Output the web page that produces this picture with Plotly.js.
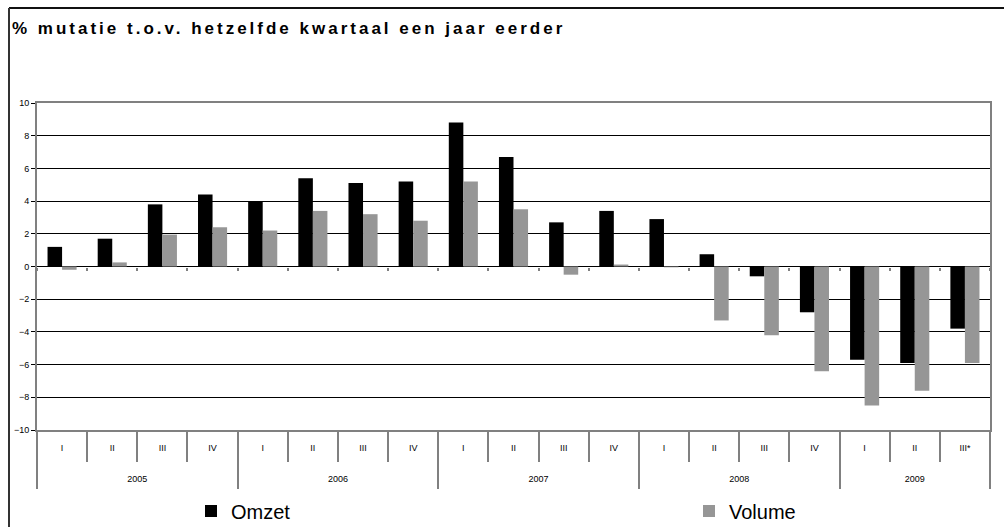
<!DOCTYPE html>
<html>
<head>
<meta charset="utf-8">
<script src="https://cdn.plot.ly/plotly-3.0.1.min.js"></script>
<style>
html,body{margin:0;padding:0;background:#fff;}
#chart{width:1004px;height:527px;}
.gtitle{letter-spacing:3px;}
</style>
</head>
<body>
<div id="chart"></div>
<script>
const quarters = ['I','II','III','IV','I','II','III','IV','I','II','III','IV','I','II','III','IV','I','II','III*'];
const years = ['2005','2005','2005','2005','2006','2006','2006','2006','2007','2007','2007','2007','2008','2008','2008','2008','2009','2009','2009'];
const omzet = [1.2,1.7,3.8,4.4,4.0,5.4,5.1,5.2,8.8,6.7,2.7,3.4,2.9,0.75,-0.6,-2.8,-5.7,-5.9,-3.8];
const volume = [-0.2,0.25,1.95,2.4,2.2,3.4,3.2,2.8,5.2,3.5,-0.5,0.12,-0.05,-3.3,-4.2,-6.4,-8.5,-7.6,-5.9];
const seriesNames = ['Omzet','Volume'];
const yTicks = [-10,-8,-6,-4,-2,0,2,4,6,8,10];
const yGrid = [-8,-6,-4,-2,2,4,6,8];

const idx = quarters.map((q,i)=>i);
const bounds = quarters.map((q,i)=>i-0.5).concat([quarters.length-0.5]);
const yearList = [...new Set(years)];
const yearStart = yearList.map(y=>years.indexOf(y));
const yearEnd = yearList.map(y=>years.lastIndexOf(y));
const yearCenters = yearList.map((y,k)=>(yearStart[k]+yearEnd[k])/2);
const yearBounds = yearStart.map(s=>s-0.5).concat([quarters.length-0.5]);
const xr = [-0.5, quarters.length-0.5];

const font = 'Liberation Sans, Arial, sans-serif';
const axisGray = '#808080';

const traces = [
  {type:'bar', name:seriesNames[0], x:idx, y:omzet, marker:{color:'#000000'}, legend:'legend'},
  {type:'bar', name:seriesNames[1], x:idx, y:volume, marker:{color:'#969696'}, legend:'legend2'}
];

const hiddenAxis = {overlaying:'x', range:xr, showgrid:false, zeroline:false, showline:false, fixedrange:true};
const legendBase = {orientation:'h', xref:'container', yref:'container', xanchor:'left', yanchor:'middle',
                    y:1-511/527, font:{family:font, size:20, color:'#000'}, bgcolor:'rgba(0,0,0,0)', borderwidth:0};

const layout = {
  width:1004, height:527,
  margin:{l:37, r:14, t:103, b:97, pad:0, autoexpand:false},
  paper_bgcolor:'#ffffff', plot_bgcolor:'#ffffff',
  barmode:'group', bargap:0.42, bargroupgap:0,
  showlegend:true,
  title:{text:'% mutatie t.o.v. hetzelfde kwartaal een jaar eerder', xref:'container', yref:'container',
         x:12/1004, xanchor:'left', y:1-28/527, yanchor:'middle',
         font:{family:font, size:17, color:'#000', weight:'bold'}},
  font:{family:font, color:'#000'},
  xaxis:{type:'linear', range:xr, tickmode:'array', tickvals:idx, ticktext:quarters,
         ticks:'', showgrid:false, zeroline:false, showline:true, linecolor:axisGray, linewidth:2, mirror:true,
         tickfont:{family:font, size:9, color:'#000'}, ticklabelstandoff:8, fixedrange:true},
  xaxis2:Object.assign({}, hiddenAxis, {anchor:'y', side:'bottom', tickmode:'array', tickvals:bounds,
         ticks:'outside', ticklen:31, tickwidth:2, tickcolor:axisGray, showticklabels:false}),
  xaxis3:Object.assign({}, hiddenAxis, {anchor:'y', side:'bottom', tickmode:'array', tickvals:yearBounds,
         ticks:'outside', ticklen:58, tickwidth:2, tickcolor:axisGray, showticklabels:false}),
  xaxis4:Object.assign({}, hiddenAxis, {anchor:'y', side:'bottom', tickmode:'array', tickvals:yearCenters, ticktext:yearList,
         ticks:'', showticklabels:true, tickfont:{family:font, size:9, color:'#000'}, ticklabelstandoff:42}),
  xaxis5:Object.assign({}, hiddenAxis, {anchor:'free', position:0.5, side:'bottom', tickmode:'array', tickvals:bounds,
         ticks:'outside', ticklen:3, tickwidth:2, tickcolor:axisGray, showticklabels:false}),
  yaxis:{range:[-10,10], tickmode:'array', tickvals:yTicks, ticks:'outside', ticklen:4, tickcolor:'#000', tickwidth:1,
         showgrid:false, zeroline:true, zerolinecolor:'#000', zerolinewidth:1,
         showline:true, linecolor:axisGray, linewidth:2, mirror:true,
         tickfont:{family:font, size:9, color:'#000'}, fixedrange:true},
  yaxis2:{overlaying:'y', range:[-10,10], tickmode:'array', tickvals:yGrid, ticks:'', showticklabels:false,
         showgrid:true, gridcolor:'#000', gridwidth:1, zeroline:false, showline:false, fixedrange:true},
  legend:Object.assign({}, legendBase, {x:191/1004}),
  legend2:Object.assign({}, legendBase, {x:689/1004}),
  shapes:[
    {type:'line', xref:'paper', yref:'paper', x0:(9-37)/953, x1:(1010-37)/953, y0:(430-8)/327, y1:(430-8)/327, line:{color:'#111', width:2}},
    {type:'line', xref:'paper', yref:'paper', x0:(9-37)/953, x1:(9-37)/953, y0:(430-8)/327, y1:(430-535)/327, line:{color:'#333', width:2}}
  ]
};

const extra = [
  {type:'bar', x:[], y:[], xaxis:'x2', showlegend:false, hoverinfo:'skip'},
  {type:'bar', x:[], y:[], xaxis:'x3', showlegend:false, hoverinfo:'skip'},
  {type:'bar', x:[], y:[], xaxis:'x4', showlegend:false, hoverinfo:'skip'},
  {type:'bar', x:[], y:[], xaxis:'x5', showlegend:false, hoverinfo:'skip'},
  {type:'bar', x:[], y:[], yaxis:'y2', showlegend:false, hoverinfo:'skip'}
];

Plotly.newPlot('chart', traces.concat(extra), layout, {displayModeBar:false, staticPlot:true});
</script>
</body>
</html>
